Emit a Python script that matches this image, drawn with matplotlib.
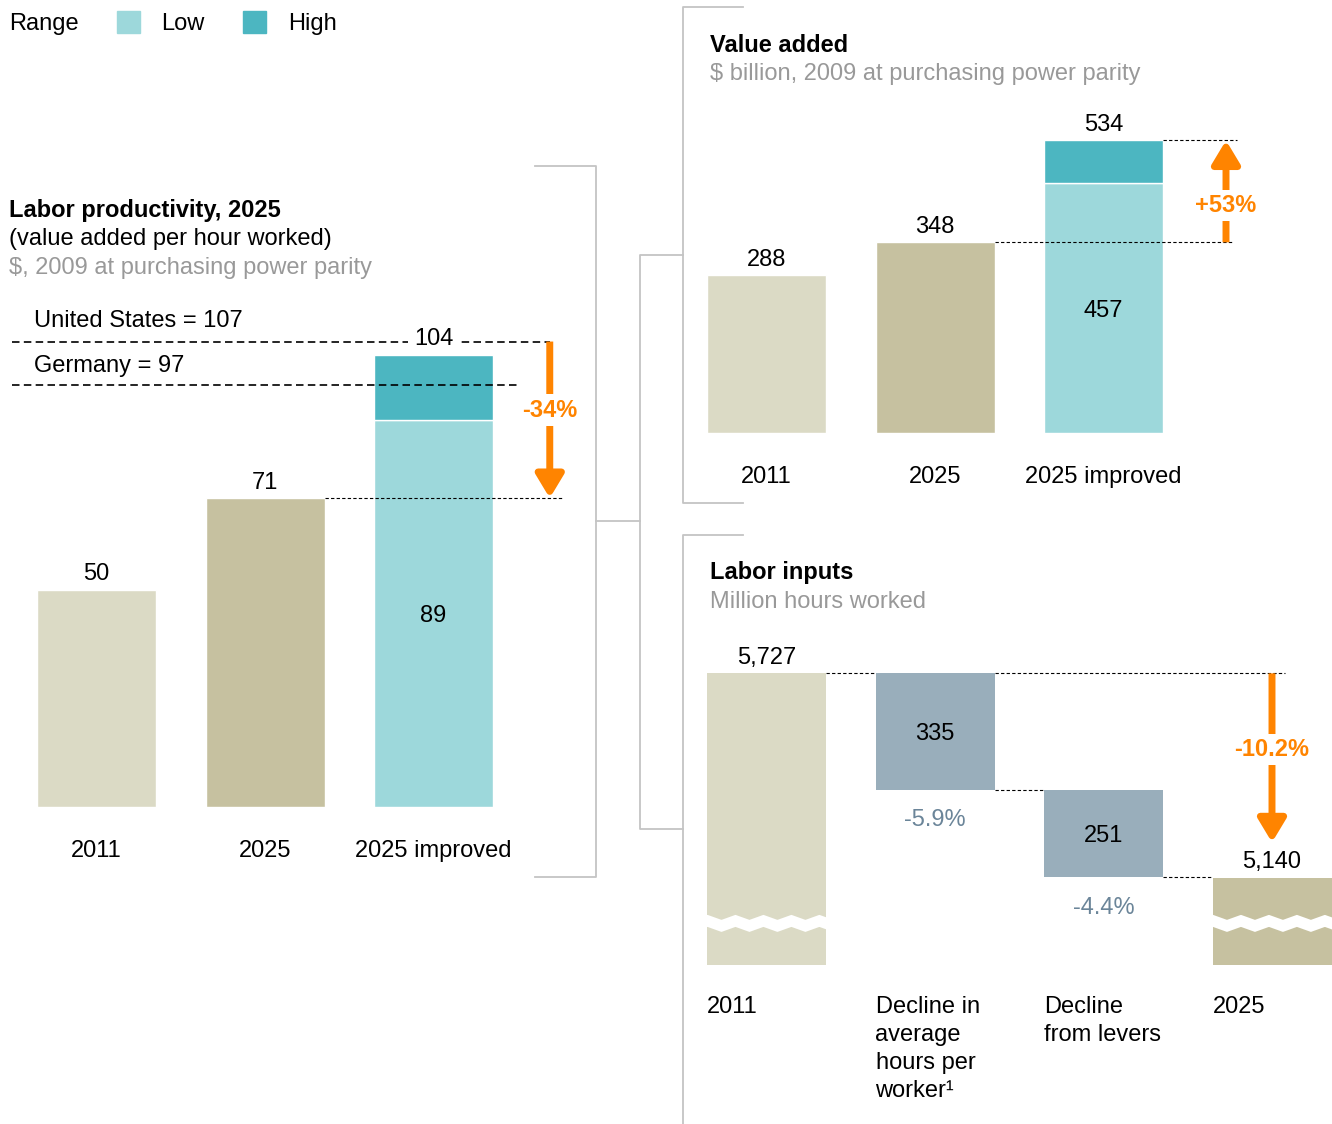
import numpy as np
import matplotlib.pyplot as plt
from matplotlib.patches import Rectangle

plt.rcParams['font.family'] = ['Liberation Sans', 'DejaVu Sans']
plt.rcParams['font.size'] = 17

# ---- data ----
prod_cats = ["2011", "2025", "2025 improved"]
prod_low = [50, 71, 89]
prod_high = [0, 0, 15]
prod_total = [50, 71, 104]
us_level = 107
germany_level = 97
prod_change = "-34%"

va_cats = ["2011", "2025", "2025 improved"]
va_low = [288, 348, 457]
va_high = [0, 0, 77]
va_total = [288, 348, 534]
va_change = "+53%"

li_cats = ["2011", "Decline in\naverage\nhours per\nworker\u00b9",
           "Decline\nfrom levers", "2025"]
li_start = 5727
li_declines = [335, 251]
li_decline_pct = ["-5.9%", "-4.4%"]
li_end = 5140
li_change = "-10.2%"

# ---- colours ----
C2011 = '#dbdac5'
C2025 = '#c6c1a0'
LOW = '#9dd8db'
HIGH = '#4cb6c1'
BLOCK = '#99aebb'
ORANGE = '#ff8400'
GREY = '#999999'
SLATE = '#6b8599'
LINE = '#c4c4c4'

W, H = 1332, 1124
fig = plt.figure(figsize=(W / 100, H / 100), dpi=100)

STEP = 168.5          # pixels between bar centres
BARW = 119 / STEP
DY = -2               # small nudge (points) so digits sit centred


def px_axes(x0, y0, x1, y1):
    ax = fig.add_axes([x0 / W, 1 - y1 / H, (x1 - x0) / W, (y1 - y0) / H])
    ax.axis('off')
    return ax


def label(ax, x, y, s, dy=0, **kw):
    kw.setdefault('ha', 'center')
    kw.setdefault('va', 'center')
    ax.annotate(s, (x, y), xytext=(0, dy + DY), textcoords='offset points', **kw)


def dashed(ax, x0, x1, y, fine=True):
    if fine:
        ax.plot([x0, x1], [y, y], color='black', lw=0.8, ls=(0, (3, 2)), zorder=4)
    else:
        ax.plot([x0, x1], [y, y], color='black', lw=1.2, ls=(0, (4.5, 2.6)), zorder=4)


def arrow(ax, x, y0, y1):
    ax.annotate('', xy=(x, y1), xytext=(x, y0),
                arrowprops=dict(arrowstyle='-|>,head_length=0.7,head_width=0.42',
                                mutation_scale=20, lw=5, color=ORANGE,
                                shrinkA=0, shrinkB=0, capstyle='butt'), zorder=5)


def pct_label(ax, x, y, s):
    ax.annotate(s, (x, y), xytext=(0, DY), textcoords='offset points',
                ha='center', va='center', color=ORANGE, fontweight='bold',
                zorder=6, bbox=dict(facecolor='white', edgecolor='none', pad=3))


# ---- labour productivity (left) ----
axL = px_axes(0, 300, 600, 807)
axL.set_xlim(-96.5 / STEP, (600 - 96.5) / STEP)
axL.set_ylim(0, 507 / 4.35)
x = np.arange(len(prod_cats))
axL.bar(x, prod_low, width=BARW, color=[C2011, C2025, LOW],
        edgecolor='white', lw=1)
axL.bar(x[2], prod_high[2], bottom=prod_low[2], width=BARW, color=HIGH,
        edgecolor='white', lw=1)
for i, t in enumerate(prod_total):
    if i == 2:
        # this one sits on the United States line, so blank the line behind it
        label(axL, i, t, str(t), dy=13,
              bbox=dict(facecolor='white', edgecolor='none', pad=4), zorder=6)
    else:
        label(axL, i, t, str(t), dy=13)
    label(axL, i, 0, prod_cats[i], dy=-30)
label(axL, 2, prod_low[2] / 2, str(prod_low[2]))

ax_arrow_l = 2.69
dashed(axL, -0.5, ax_arrow_l, us_level, fine=False)
dashed(axL, -0.5, 2.50, germany_level, fine=False)
label(axL, -0.37, us_level, "United States = %d" % us_level, dy=17, ha='left')
label(axL, -0.37, germany_level, "Germany = %d" % germany_level, dy=16, ha='left')
dashed(axL, 1 + BARW / 2, 2.77, prod_total[1])
arrow(axL, ax_arrow_l, us_level, prod_total[1])
pct_label(axL, ax_arrow_l, prod_total[1] + 0.58 * (us_level - prod_total[1]),
          prod_change)

# ---- value added (top right) ----
axV = px_axes(683, 100, 1332, 433)
axV.set_xlim((683 - 766.5) / STEP, (1332 - 766.5) / STEP)
axV.set_ylim(0, 333 / 0.548)
x = np.arange(len(va_cats))
axV.bar(x, va_low, width=BARW, color=[C2011, C2025, LOW], edgecolor='white', lw=1)
axV.bar(x[2], va_high[2], bottom=va_low[2], width=BARW, color=HIGH,
        edgecolor='white', lw=1)
for i, t in enumerate(va_total):
    label(axV, i, t, str(t), dy=13)
    label(axV, i, 0, va_cats[i], dy=-30)
label(axV, 2, va_low[2] / 2, str(va_low[2]))
dashed(axV, 1 + BARW / 2, 2.76, va_total[1])
dashed(axV, 2 + BARW / 2, 2.79, va_total[2])
arrow(axV, 2.727, va_total[1], va_total[2])
pct_label(axV, 2.727, va_total[1] + 0.39 * (va_total[2] - va_total[1]), va_change)

# ---- labour inputs (bottom right) ----
axI = px_axes(683, 600, 1332, 965)
axI.set_xlim((683 - 766.5) / STEP, (1332 - 766.5) / STEP)
ybot = li_end - 87 / 0.3465
axI.set_ylim(ybot, li_start + 73 / 0.3465)
levels = [li_start]
for d in li_declines:
    levels.append(levels[-1] - d)
axI.bar(0, li_start, width=BARW, color=C2011)
axI.bar(3, li_end, width=BARW, color=C2025)
for k, d in enumerate(li_declines):
    axI.bar(k + 1, d, bottom=levels[k + 1], width=BARW, color=BLOCK)
    label(axI, k + 1, levels[k + 1] + d / 2, str(d))
    label(axI, k + 1, levels[k + 1], li_decline_pct[k], dy=-20, color=SLATE)
label(axI, 0, li_start, f"{li_start:,}", dy=13)
label(axI, 3, li_end, f"{li_end:,}", dy=13)
for i, s in enumerate(li_cats):
    axI.annotate(s, (i - BARW / 2, ybot), xytext=(0, -22),
                 textcoords='offset points', ha='left', va='top', linespacing=1.36)

# axis break waves
yc = ybot + 121
amp, half = 5 / 0.3465, 6 / 0.3465
for i in [0, 3]:
    xs = np.linspace(i - BARW / 2 - 0.01, i + BARW / 2 + 0.01, 200)
    tri = np.abs(((xs - (i - BARW / 2)) / 0.166) % 1 - 0.5) * 2 - 0.5
    axI.fill_between(xs, yc - half + amp * tri, yc + half + amp * tri,
                     color='white', lw=0, zorder=3)

dashed(axI, BARW / 2, 1 - BARW / 2, levels[0])
dashed(axI, 1 + BARW / 2, 3.077, levels[0])
dashed(axI, 1 + BARW / 2, 2 - BARW / 2, levels[1])
dashed(axI, 2 + BARW / 2, 3 - BARW / 2, levels[2])
arrow(axI, 3, li_start, li_end + 101)
pct_label(axI, 3, li_start - 211, li_change)

# ---- overlay: titles, legend, brackets ----
ov = fig.add_axes([0, 0, 1, 1])
ov.set_xlim(0, W)
ov.set_ylim(H, 0)
ov.axis('off')

ov.text(9, 24, "Range", va='center')
ov.add_patch(Rectangle((117, 11), 23, 22, color=LOW))
ov.text(161, 24, "Low", va='center')
ov.add_patch(Rectangle((243, 11), 23, 22, color=HIGH))
ov.text(288, 24, "High", va='center')

ov.text(9, 210, "Labor productivity, 2025", va='center', fontweight='bold')
ov.text(9, 239, "(value added per hour worked)", va='center')
ov.text(9, 268, r"\$, 2009 at purchasing power parity", va='center', color=GREY)
ov.text(710, 45, "Value added", va='center', fontweight='bold')
ov.text(710, 74, r"\$ billion, 2009 at purchasing power parity", va='center',
        color=GREY)
ov.text(710, 573, "Labor inputs", va='center', fontweight='bold')
ov.text(710, 602, "Million hours worked", va='center', color=GREY)

lk = dict(color=LINE, lw=1.3)
ov.plot([535, 596, 596, 535], [166, 166, 877, 877], **lk)
ov.plot([596, 640], [521, 521], **lk)
ov.plot([683, 640, 640, 683], [255, 255, 829, 829], **lk)
ov.plot([743, 683, 683, 743], [7, 7, 503, 503], **lk)
ov.plot([743, 683, 683], [535, 535, 1124], **lk)

fig.savefig("out.png", dpi=100)
